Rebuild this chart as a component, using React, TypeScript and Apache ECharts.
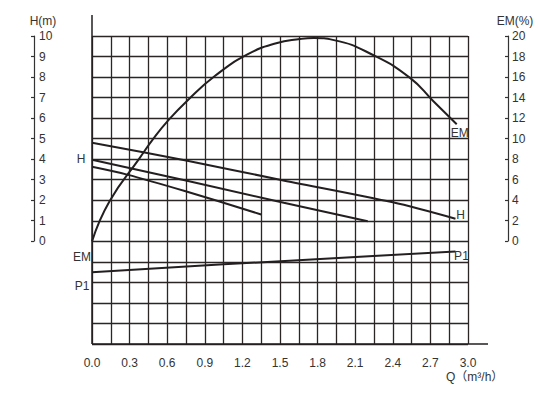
import React, { useEffect, useRef } from "react";
import * as echarts from "echarts";

// ---- data ----
const emQ = [0, 0.14, 0.38, 0.49, 0.61, 0.76, 0.98, 1.24, 1.47, 1.66, 1.77, 1.93, 2.25, 2.54, 2.72, 2.91];
const emValues = [0, 3.9, 8.1, 10.0, 11.8, 13.7, 16.1, 18.2, 19.3, 19.7, 19.8, 19.6, 18.1, 15.9, 13.7, 11.4];

const hTopQ = [0, 0.74, 1.5, 2.4, 2.9];
const hTopValues = [4.8, 3.95, 3.0, 1.9, 1.1];

const hMidQ = [0, 0.74, 1.53, 2.2];
const hMidValues = [3.97, 2.97, 1.88, 0.98];

const hLowQ = [0, 0.28, 0.74, 1.35];
const hLowValues = [3.63, 3.25, 2.45, 1.31];

const p1Q = [0, 1.05, 2.9];
const p1Values = [-1.5, -1.12, -0.49];

const hTickMin = 0;
const hTickMax = 10;
const emTickMin = 0;
const emTickMax = 20;

const FONT = "'Liberation Sans', Arial, 'Noto Sans CJK SC', sans-serif";
const INK = "#231f20";
const TXT = "#333";

type LabelSpec = { index: number; text: string; offset: [number, number] };

function buildData(qs: number[], vs: number[], labels: LabelSpec[]) {
  return qs.map((q, i) => {
    const lab = labels.find((l) => l.index === i);
    if (!lab) return { value: [q, vs[i]] };
    return {
      value: [q, vs[i]],
      label: {
        show: true,
        position: "inside",
        offset: lab.offset,
        formatter: lab.text,
        color: TXT,
        fontSize: 12,
        fontFamily: FONT,
      },
    };
  });
}

export default function App() {
  const ref = useRef<HTMLDivElement>(null);

  useEffect(() => {
    document.body.style.margin = "0";
    if (!ref.current) return;
    const chart = echarts.init(ref.current, undefined, { renderer: "svg" });

    const gridLeft = 92;
    const gridTop = 36;
    const gridWidth = 376;
    const gridHeight = 308;
    const gridBottomY = gridTop + gridHeight;

    const lineStyle = { color: INK, width: 2 };
    const baseSeries = {
      type: "line" as const,
      showSymbol: true,
      symbol: "circle",
      symbolSize: 0,
      lineStyle,
      itemStyle: { color: INK },
      label: { show: false },
      emphasis: { disabled: true },
      z: 5,
    };

    chart.setOption({
      animation: false,
      backgroundColor: "#fff",
      grid: [
        { left: gridLeft, top: gridTop, width: gridWidth, height: gridHeight },
        { left: 34, top: 36, width: 474, height: 205 },
      ],
      xAxis: [
        {
          type: "value",
          gridIndex: 0,
          min: 0,
          max: 3,
          interval: 0.15,
          axisLine: { show: false },
          axisTick: { show: false },
          splitLine: { show: true, lineStyle: { color: "#2b2526", width: 1.3 } },
          axisLabel: {
            color: TXT,
            fontSize: 12,
            fontFamily: FONT,
            margin: 13,
            formatter: (v: number) => {
              const k = Math.round(v / 0.15);
              return k % 2 === 0 ? v.toFixed(1) : "";
            },
          },
        },
        { type: "value", gridIndex: 1, min: 0, max: 1, show: false },
      ],
      yAxis: [
        {
          type: "value",
          gridIndex: 0,
          min: -5,
          max: 10,
          interval: 1,
          axisLine: { show: false },
          axisTick: { show: false },
          axisLabel: { show: false },
          splitLine: { show: true, lineStyle: { color: "#2b2526", width: 1.3 } },
        },
        {
          type: "value",
          gridIndex: 0,
          min: -10,
          max: 20,
          show: false,
        },
        {
          type: "value",
          gridIndex: 1,
          position: "left",
          min: hTickMin,
          max: hTickMax,
          interval: 1,
          axisLine: { show: true, lineStyle: { color: TXT, width: 1.2 } },
          axisTick: { show: true, inside: false, length: 3, lineStyle: { color: TXT, width: 1.2 } },
          axisLabel: { inside: true, margin: 5, color: TXT, fontSize: 12, fontFamily: FONT },
          splitLine: { show: false },
        },
        {
          type: "value",
          gridIndex: 1,
          position: "right",
          min: emTickMin,
          max: emTickMax,
          interval: 2,
          axisLine: { show: true, lineStyle: { color: TXT, width: 1.2 } },
          axisTick: { show: true, inside: true, length: 3, lineStyle: { color: TXT, width: 1.2 } },
          axisLabel: { margin: 4, color: TXT, fontSize: 12, fontFamily: FONT },
          splitLine: { show: false },
        },
      ],
      series: [
        {
          ...baseSeries,
          name: "EM",
          xAxisIndex: 0,
          yAxisIndex: 1,
          smooth: true,
          data: buildData(emQ, emValues, [
            { index: 0, text: "EM", offset: [-10, 16] },
            { index: emQ.length - 1, text: "EM", offset: [3, 9] },
          ]),
        },
        {
          ...baseSeries,
          name: "H1",
          xAxisIndex: 0,
          yAxisIndex: 0,
          smooth: 0.3,
          data: buildData(hTopQ, hTopValues, [
            { index: hTopQ.length - 1, text: "H", offset: [5, -4] },
          ]),
        },
        {
          ...baseSeries,
          name: "H2",
          xAxisIndex: 0,
          yAxisIndex: 0,
          data: buildData(hMidQ, hMidValues, [{ index: 0, text: "H", offset: [-11, -1] }]),
        },
        {
          ...baseSeries,
          name: "H3",
          xAxisIndex: 0,
          yAxisIndex: 0,
          smooth: 0.3,
          data: buildData(hLowQ, hLowValues, []),
        },
        {
          ...baseSeries,
          name: "P1",
          xAxisIndex: 0,
          yAxisIndex: 0,
          data: buildData(p1Q, p1Values, [
            { index: 0, text: "P1", offset: [-10, 14] },
            { index: p1Q.length - 1, text: "P1", offset: [6, 5] },
          ]),
        },
      ],
      graphic: [
        {
          type: "line",
          shape: { x1: gridLeft, y1: 15, x2: gridLeft, y2: gridBottomY },
          style: { stroke: INK, lineWidth: 1.5 },
          z: 10,
        },
        {
          type: "line",
          shape: { x1: gridLeft, y1: gridBottomY, x2: 488, y2: gridBottomY },
          style: { stroke: INK, lineWidth: 1.5 },
          z: 10,
        },
        {
          type: "text",
          x: 43,
          y: 21,
          style: {
            text: "H(m)",
            fill: TXT,
            font: `12px ${FONT}`,
            textAlign: "center",
            textVerticalAlign: "middle",
          },
        },
        {
          type: "text",
          x: 515,
          y: 21,
          style: {
            text: "EM(%)",
            fill: TXT,
            font: `12px ${FONT}`,
            textAlign: "center",
            textVerticalAlign: "middle",
          },
        },
        {
          type: "text",
          x: 446,
          y: 377,
          style: {
            text: "Q（m³/h）",
            fill: TXT,
            font: `12px ${FONT}`,
            textAlign: "left",
            textVerticalAlign: "middle",
          },
        },
      ],
    });

    return () => chart.dispose();
  }, []);

  return <div ref={ref} style={{ width: 539, height: 396 }} />;
}
